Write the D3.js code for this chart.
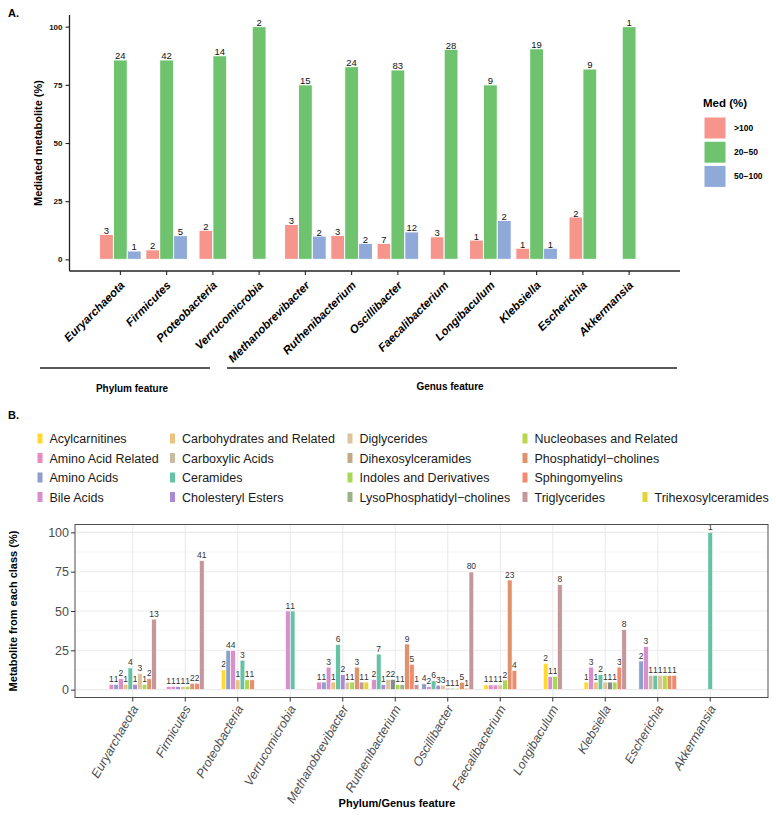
<!DOCTYPE html>
<html><head><meta charset="utf-8">
<script src="https://cdn.jsdelivr.net/npm/d3@7"></script>
<style>body{margin:0;background:#fff}svg{display:block;font-family:"Liberation Sans",Arial,Helvetica,sans-serif}</style>
</head><body><svg id="c" width="776" height="817"></svg>
<script>
// ---------- Panel A data ----------
const taxa = ["Euryarchaeota","Firmicutes","Proteobacteria","Verrucomicrobia","Methanobrevibacter","Ruthenibacterium","Oscillibacter","Faecalibacterium","Longibaculum","Klebsiella","Escherichia","Akkermansia"];
const medLevels = [">100","20\u221250","50\u2212100"];
const medColors = ["#F5958C","#6FC36F","#8FAAD9"];
const pctHigh = [10.7, 4.1, 12.5, null, 15.0, 10.3, 6.9, 9.7, 8.3, 4.8, 18.2, null];
const pctMid  = [85.7, 85.7, 87.5, 100, 75.0, 82.8, 81.4, 90.3, 75.0, 90.5, 81.8, 100];
const pctLow  = [3.6, 10.2, null, null, 10.0, 6.9, 11.8, null, 16.7, 4.8, null, null];
const nHigh = [3, 2, 2, null, 3, 3, 7, 3, 1, 1, 2, null];
const nMid  = [24, 42, 14, 2, 15, 24, 83, 28, 9, 19, 9, 1];
const nLow  = [1, 5, null, null, 2, 2, 12, null, 2, 1, null, null];
const yTicksA = [0, 25, 50, 75, 100];

// ---------- Panel B data ----------
const classes = ["Acylcarnitines","Amino Acid Related","Amino Acids","Bile Acids","Carbohydrates and Related","Carboxylic Acids","Ceramides","Cholesteryl Esters","Diglycerides","Dihexosylceramides","Indoles and Derivatives","LysoPhosphatidyl\u2212cholines","Nucleobases and Related","Phosphatidyl\u2212cholines","Sphingomyelins","Triglycerides","Trihexosylceramides"];
const classColors = ["#FFD92F","#E78AC3","#8DA0CB","#D88FCB","#EBC27F","#CBBAA5","#66C2A5","#A98BD5","#DCC49D","#C1A887","#A6D854","#9DB088","#BBD64B","#E0926A","#F08A70","#C4979D","#E2D634"];
const dihexBarColor = "#8A8A8A";
const euryB = [["Amino Acid Related",1,3.4],["Amino Acids",1,3.4],["Bile Acids",2,6.9],["Carbohydrates and Related",1,3.4],["Ceramides",4,13.8],["Cholesteryl Esters",1,3.4],["Diglycerides",3,10.3],["Indoles and Derivatives",1,3.4],["Phosphatidyl\u2212cholines",2,6.9],["Triglycerides",13,44.8]];
const firmB = [["Amino Acid Related",1,2],["Bile Acids",1,2],["Cholesteryl Esters",1,2],["Diglycerides",1,2],["Indoles and Derivatives",1,2],["Phosphatidyl\u2212cholines",2,4],["Sphingomyelins",2,4],["Triglycerides",41,82]];
const proteoB = [["Acylcarnitines",2,12.5],["Amino Acids",4,25],["Bile Acids",4,25],["Carbohydrates and Related",1,6.25],["Ceramides",3,18.75],["Indoles and Derivatives",1,6.25],["Sphingomyelins",1,6.25]];
const verrucoB = [["Bile Acids",1,50],["Ceramides",1,50]];
const methanoB = [["Amino Acid Related",1,4.8],["Amino Acids",1,4.8],["Bile Acids",3,14.3],["Carbohydrates and Related",1,4.8],["Ceramides",6,28.6],["Cholesteryl Esters",2,9.5],["Diglycerides",1,4.8],["Indoles and Derivatives",1,4.8],["Phosphatidyl\u2212cholines",3,14.3],["Triglycerides",1,4.8],["Trihexosylceramides",1,4.8]];
const rutheniB = [["Bile Acids",2,6.5],["Ceramides",7,22.6],["Cholesteryl Esters",1,3.2],["Diglycerides",2,6.5],["Dihexosylceramides",2,6.5],["Indoles and Derivatives",1,3.2],["LysoPhosphatidyl\u2212cholines",1,3.2],["Phosphatidyl\u2212cholines",9,29.0],["Sphingomyelins",5,16.1],["Triglycerides",1,3.2]];
const oscilliB = [["Amino Acids",4,3.7],["Bile Acids",2,1.9],["Ceramides",6,5.6],["Cholesteryl Esters",3,2.8],["Diglycerides",3,2.8],["Dihexosylceramides",1,0.9],["LysoPhosphatidyl\u2212cholines",1,0.9],["Nucleobases and Related",1,0.9],["Phosphatidyl\u2212cholines",5,4.7],["Sphingomyelins",1,0.9],["Triglycerides",80,74.8]];
const faecaliB = [["Acylcarnitines",1,3.0],["Amino Acid Related",1,3.0],["Bile Acids",1,3.0],["Diglycerides",1,3.0],["Indoles and Derivatives",2,6.1],["Phosphatidyl\u2212cholines",23,69.7],["Sphingomyelins",4,12.1]];
const longiB = [["Acylcarnitines",2,16.7],["Bile Acids",1,8.3],["Indoles and Derivatives",1,8.3],["Triglycerides",8,66.7]];
const klebsB = [["Acylcarnitines",1,4.8],["Bile Acids",3,14.3],["Carbohydrates and Related",1,4.8],["Ceramides",2,9.5],["Diglycerides",1,4.8],["Dihexosylceramides",1,4.8],["Indoles and Derivatives",1,4.8],["Sphingomyelins",3,14.3],["Triglycerides",8,38.1]];
const escheB = [["Amino Acids",2,18.2],["Bile Acids",3,27.3],["Carboxylic Acids",1,9.1],["Ceramides",1,9.1],["Diglycerides",1,9.1],["Nucleobases and Related",1,9.1],["Phosphatidyl\u2212cholines",1,9.1],["Sphingomyelins",1,9.1]];
const akkerB = [["Ceramides",1,100]];
const groupsB = [euryB, firmB, proteoB, verrucoB, methanoB, rutheniB, oscilliB, faecaliB, longiB, klebsB, escheB, akkerB];
const yTicksB = [0, 25, 50, 75, 100];
const yMinorB = [12.5, 37.5, 62.5, 87.5];

const svg = d3.select("#c");
const F = '"Liberation Sans",Arial,Helvetica,sans-serif';

// ================= PANEL A =================
const A = {l: 69.5, r: 680, t: 15, b: 271};
const xA = d3.scaleBand().domain(taxa).range([A.l, A.r]).paddingOuter(0.6).paddingInner(0);
const xAc = d => xA(d) + xA.bandwidth()/2;
const yA = d3.scaleLinear().domain([-5, 105]).range([A.b, A.t]);
const gA = svg.append("g");

svg.append("text").attr("x", 8).attr("y", 17).attr("font-size", 11).attr("font-weight", "bold").text("A.");

const seriesA = [pctHigh, pctMid, pctLow];
const countsA = [nHigh, nMid, nLow];
const slotA = xA.bandwidth() * 0.3;
taxa.forEach((t, i) => {
  const present = [0,1,2].filter(k => seriesA[k][i] != null);
  const start = xAc(t) - present.length * slotA / 2;
  present.forEach((k, j) => {
    const v = seriesA[k][i];
    const x0 = start + j * slotA;
    gA.append("rect").attr("x", x0).attr("width", slotA).attr("y", yA(v)).attr("height", yA(0) - yA(v))
      .attr("fill", medColors[k]).attr("stroke", "#fff").attr("stroke-width", 1);
    gA.append("text").attr("x", x0 + slotA/2).attr("y", yA(v) - 0.5).attr("text-anchor", "middle")
      .attr("font-size", 9.5).attr("fill", "#111").text(countsA[k][i]);
  });
});

const yAxA = gA.append("g").attr("transform", `translate(${A.l},0)`).call(d3.axisLeft(yA).tickValues(yTicksA).tickSize(4).tickPadding(3));
yAxA.select(".domain").attr("d", `M0,${A.t}V${A.b}`).attr("stroke", "#222").attr("stroke-width", 1.3);
yAxA.selectAll(".tick line").attr("stroke", "#222").attr("stroke-width", 1.1);
yAxA.selectAll(".tick text").attr("font-size", 8).attr("font-weight", "bold").attr("font-family", F).attr("fill", "#111");
const xAxA = gA.append("g").attr("transform", `translate(0,${A.b})`).call(d3.axisBottom(xA).tickSize(4).tickFormat(""));
xAxA.select(".domain").attr("d", `M${A.l},0H${A.r}`).attr("stroke", "#222").attr("stroke-width", 1.3);
xAxA.selectAll(".tick line").attr("stroke", "#222").attr("stroke-width", 1.1);
taxa.forEach(t => {
  gA.append("text").attr("transform", `translate(${xAc(t) + 5},${A.b + 15}) rotate(-45)`)
    .attr("text-anchor", "end").attr("font-size", 11.5).attr("font-weight", "bold").attr("font-style", "italic").text(t);
});
svg.append("text").attr("transform", `translate(42,${(yA(0)+yA(100))/2}) rotate(-90)`).attr("text-anchor", "middle")
  .attr("font-size", 11).attr("font-weight", "bold").text("Mediated metabolite (%)");

svg.append("line").attr("x1", 40).attr("x2", 210).attr("y1", 368).attr("y2", 368).attr("stroke", "#222").attr("stroke-width", 1.5);
svg.append("line").attr("x1", 227).attr("x2", 677).attr("y1", 368).attr("y2", 368).attr("stroke", "#222").attr("stroke-width", 1.5);
svg.append("text").attr("x", 132).attr("y", 392).attr("text-anchor", "middle").attr("font-size", 10).attr("font-weight", "bold").text("Phylum feature");
svg.append("text").attr("x", 450).attr("y", 390).attr("text-anchor", "middle").attr("font-size", 10).attr("font-weight", "bold").text("Genus feature");

const lgA = svg.append("g").attr("transform", "translate(703,0)");
lgA.append("text").attr("x", 0).attr("y", 107).attr("font-size", 11.5).attr("font-weight", "bold").text("Med (%)");
medLevels.forEach((m, i) => {
  lgA.append("rect").attr("x", 1).attr("y", 117 + i*24.2).attr("width", 22).attr("height", 22).attr("fill", medColors[i]).attr("stroke", "#fff");
  lgA.append("text").attr("x", 31).attr("y", 131 + i*24.2).attr("font-size", 8.5).attr("font-weight", "bold").text(m);
});

// ================= PANEL B =================
svg.append("text").attr("x", 8).attr("y", 419).attr("font-size", 11).attr("font-weight", "bold").text("B.");

const legCols = [37.5, 170, 347.5, 522.5, 642.5];
const legRows = [438.5, 458, 477.5, 497];
classes.forEach((c, i) => {
  let col = Math.floor(i / 4), row = i % 4;
  if (i === 16) { col = 4; row = 3; }
  const g = svg.append("g").attr("transform", `translate(${legCols[col]},${legRows[row]})`);
  g.append("rect").attr("x", 0).attr("y", -5).attr("width", 5).attr("height", 10).attr("fill", classColors[i]);
  g.append("text").attr("x", 12).attr("y", 4.5).attr("font-size", 12.5).attr("fill", "#1a1a1a").text(c);
});

const B = {l: 75, r: 768, t: 524.5, b: 697.5};
const xB = d3.scaleBand().domain(taxa).range([B.l, B.r]).paddingOuter(0.6).paddingInner(0);
const xBc = d => xB(d) + xB.bandwidth()/2;
const yB = d3.scaleLinear().domain([-5, 105]).range([B.b, B.t]);
const gB = svg.append("g");
yMinorB.forEach(v => gB.append("line").attr("x1", B.l).attr("x2", B.r).attr("y1", yB(v)).attr("y2", yB(v)).attr("stroke", "#F2F2F2").attr("stroke-width", 0.6));
yTicksB.forEach(v => gB.append("line").attr("x1", B.l).attr("x2", B.r).attr("y1", yB(v)).attr("y2", yB(v)).attr("stroke", "#EBEBEB").attr("stroke-width", 1.1));
taxa.forEach(t => gB.append("line").attr("x1", xBc(t)).attr("x2", xBc(t)).attr("y1", B.t).attr("y2", B.b).attr("stroke", "#EBEBEB").attr("stroke-width", 1.1));

const slotB = xB.bandwidth() * 0.09;
const colorOf = c => c === "Dihexosylceramides" ? dihexBarColor : classColors[classes.indexOf(c)];
taxa.forEach((t, i) => {
  const rows = groupsB[i];
  const start = xBc(t) - rows.length * slotB / 2;
  rows.forEach((r, j) => {
    const x0 = start + j * slotB;
    gB.append("rect").attr("x", x0).attr("width", slotB).attr("y", yB(r[2])).attr("height", yB(0) - yB(r[2]))
      .attr("fill", colorOf(r[0])).attr("stroke", "#fff").attr("stroke-width", 0.6);
    gB.append("text").attr("x", x0 + slotB/2).attr("y", yB(r[2]) - 2.5).attr("text-anchor", "middle")
      .attr("font-size", 8.5).attr("fill", "#333").text(r[1]);
  });
});

gB.append("rect").attr("x", B.l).attr("y", B.t).attr("width", B.r - B.l).attr("height", B.b - B.t).attr("fill", "none").attr("stroke", "#4D4D4D").attr("stroke-width", 1);
const yAxB = gB.append("g").attr("transform", `translate(${B.l},0)`).call(d3.axisLeft(yB).tickValues(yTicksB).tickSize(4).tickPadding(2));
yAxB.select(".domain").remove();
yAxB.selectAll(".tick line").attr("stroke", "#333");
yAxB.selectAll(".tick text").attr("font-size", 12.5).attr("font-family", F).attr("fill", "#4D4D4D");
const xAxB = gB.append("g").attr("transform", `translate(0,${B.b})`).call(d3.axisBottom(xB).tickSize(4).tickFormat(""));
xAxB.select(".domain").remove();
xAxB.selectAll(".tick line").attr("stroke", "#333");
taxa.forEach(t => {
  gB.append("text").attr("transform", `translate(${xBc(t) + 6},${B.b + 11}) rotate(-60)`)
    .attr("text-anchor", "end").attr("font-size", 12.5).attr("font-style", "italic").attr("fill", "#4D4D4D").text(t);
});
svg.append("text").attr("transform", `translate(17,${(yB(0)+yB(100))/2}) rotate(-90)`).attr("text-anchor", "middle")
  .attr("font-size", 11).attr("font-weight", "bold").text("Metabolite from each class (%)");
svg.append("text").attr("x", 397).attr("y", 807).attr("text-anchor", "middle").attr("font-size", 11).attr("font-weight", "bold").text("Phylum/Genus feature");
</script></body></html>
